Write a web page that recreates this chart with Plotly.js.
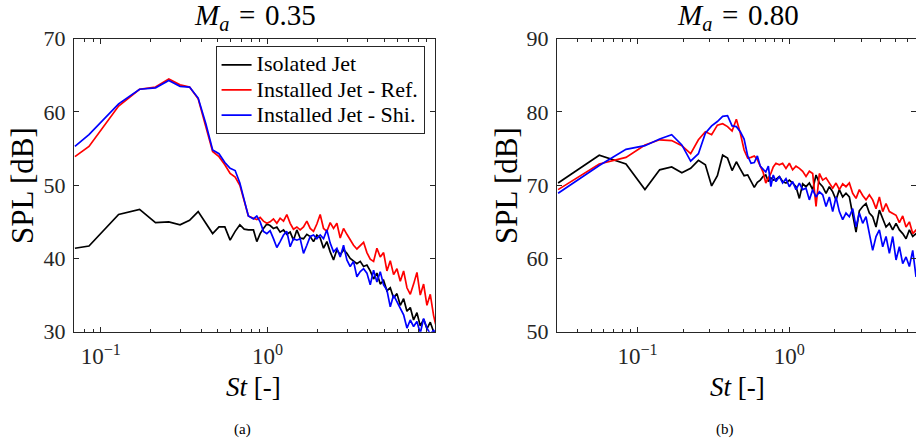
<!DOCTYPE html>
<html><head><meta charset="utf-8">
<script src="https://cdn.plot.ly/plotly-3.0.1.min.js"></script>
<style>html,body{margin:0;padding:0;overflow:hidden;background:#fff}</style>
</head><body><div id="chart" style="width:916px;height:443px"></div>
<script>
// ---- Left panel (M_a = 0.35) ----
const stLeft = [0.07, 0.085, 0.128, 0.171, 0.213, 0.256, 0.299, 0.341, 0.384, 0.427, 0.469, 0.512, 0.555, 0.597, 0.640, 0.683, 0.725, 0.768,
  0.824, 0.863, 0.904, 0.946, 0.991, 1.037, 1.086, 1.138, 1.191, 1.248, 1.306, 1.368, 1.432, 1.500, 1.571, 1.645, 1.722, 1.804, 1.889, 1.978,
  2.071, 2.169, 2.271, 2.378, 2.490, 2.608, 2.731, 2.859, 2.994, 3.135, 3.283, 3.438, 3.600, 3.770, 3.948, 4.134, 4.329, 4.533, 4.747, 4.971,
  5.205, 5.451, 5.708, 5.977, 6.259, 6.554, 6.863, 7.187, 7.522, 7.877, 8.249, 8.638, 9.045, 9.471, 9.918, 10.2];
const isolatedLeft = [41.4, 41.7, 46.0, 46.7, 44.9, 45.0, 44.6, 45.2, 46.4, 44.9, 43.4, 44.3, 44.3, 42.5, 43.7, 44.6, 44.0, 43.9,
  43.9, 42.3, 43.4, 44.1, 44.7, 44.5, 44.1, 44.3, 43.6, 43.9, 43.3, 43.6, 42.5, 43.9, 42.8, 42.7, 43.3, 43.0, 42.3, 43.2,
  42.8, 41.4, 42.3, 40.9, 39.8, 41.2, 40.5, 41.2, 40.7, 40.0, 39.7, 39.3, 39.6, 38.9, 39.1, 38.3, 37.2, 38.0, 36.5, 37.0,
  35.6, 36.0, 34.6, 35.2, 33.6, 34.5, 32.8, 33.3, 31.6, 32.6, 30.8, 31.7, 30.4, 31.3, 30.0, 29.9];
const refLeft = [53.9, 55.3, 60.8, 63.1, 63.4, 64.5, 63.7, 63.4, 61.8, 58.1, 54.6, 53.9, 52.8, 51.6, 51.1, 50.0, 48.0, 45.8,
  45.5, 45.3, 45.6, 45.1, 44.8, 45.0, 45.4, 44.8, 45.5, 45.1, 46.0, 44.8, 44.0, 44.3, 43.9, 44.3, 45.1, 44.1, 43.7, 44.7,
  46.0, 44.1, 43.7, 44.9, 44.1, 44.8, 42.8, 44.1, 43.3, 42.5, 41.8, 41.3, 41.8, 42.2, 40.8, 39.9, 39.6, 41.4, 40.2, 40.8,
  38.3, 39.7, 37.8, 38.6, 36.9, 38.3, 36.0, 35.1, 36.5, 38.1, 35.0, 36.5, 33.6, 35.1, 32.2, 31.0];
const shiLeft = [55.3, 56.9, 61.1, 63.1, 63.3, 64.3, 63.5, 63.4, 61.9, 58.4, 54.8, 54.3, 53.1, 52.3, 52.0, 50.3, 48.0, 45.8,
  45.4, 45.8, 45.0, 43.7, 43.4, 43.8, 42.7, 41.5, 42.3, 43.2, 43.7, 41.6, 42.7, 42.5, 42.7, 40.7, 41.8, 43.0, 43.2, 42.7,
  43.2, 42.7, 43.9, 42.1, 40.9, 41.4, 40.2, 41.8, 39.8, 38.9, 39.6, 37.5, 38.2, 38.6, 38.0, 36.4, 38.4, 36.8, 38.2, 36.4,
  35.7, 33.4, 35.0, 34.1, 33.2, 32.3, 30.5, 31.6, 30.7, 31.4, 29.8, 31.8, 30.5, 29.7, 30.2, 29.8];

// ---- Right panel (M_a = 0.80) ----
const stRight = [0.03, 0.056, 0.084, 0.112, 0.14, 0.168, 0.196, 0.224, 0.252, 0.28, 0.308, 0.336, 0.364, 0.392, 0.42, 0.448, 0.476, 0.504,
  0.532, 0.56, 0.588, 0.616, 0.644, 0.672, 0.70, 0.728, 0.756, 0.784,
  0.817, 0.860, 0.904, 0.951, 1.001, 1.052, 1.107, 1.165, 1.225, 1.289, 1.356, 1.426, 1.500, 1.578, 1.660, 1.746, 1.836, 1.932,
  2.032, 2.137, 2.248, 2.364, 2.487, 2.616, 2.752, 2.894, 3.045, 3.202, 3.369, 3.543, 3.727, 3.921, 4.124, 4.338, 4.564, 4.800,
  5.049, 5.312, 5.587, 5.877, 6.182, 6.503, 6.839, 7.19];
const isolatedRight = [70.3, 74.1, 72.9, 69.4, 72.1, 72.5, 71.7, 72.3, 73.4, 72.8, 69.9, 71.3, 74.1, 73.7, 72.0, 73.2, 72.2, 71.3,
  71.4, 70.5, 69.7, 70.4, 70.7, 71.2, 71.4, 70.5, 71.0, 70.7,
  70.8, 71.2, 70.5, 70.3, 70.7, 70.3, 69.8, 68.2, 70.2, 69.8, 70.3, 69.4, 71.4, 70.3, 69.8, 68.9, 69.8, 69.1,
  68.0, 69.4, 68.4, 68.9, 68.4, 66.0, 63.6, 66.5, 67.1, 67.5, 66.2, 65.7, 64.3, 66.6, 65.3, 64.3, 64.8, 63.9,
  64.8, 63.9, 63.4, 62.7, 63.9, 63.0, 63.4, 62.5];
const refRight = [69.4, 72.9, 73.8, 75.5, 76.2, 76.1, 75.4, 74.3, 76.2, 77.3, 76.9, 78.2, 78.4, 78.0, 77.4, 79.0, 77.1, 74.8,
  73.7, 73.8, 74.0, 73.5, 72.6, 71.8, 70.3, 71.0, 71.6, 72.5,
  73.0, 72.8, 73.0, 72.3, 73.0, 72.1, 72.6, 72.3, 71.9, 71.2, 71.9, 71.6, 67.1, 71.6, 70.7, 71.0, 70.3, 69.6,
  70.3, 69.4, 70.2, 69.8, 70.3, 68.9, 68.2, 69.4, 68.6, 68.0, 68.7, 68.0, 66.8, 68.4, 66.4, 67.5, 66.4, 66.2,
  65.9, 64.9, 65.8, 64.3, 65.0, 63.4, 63.9, 62.8];
const shiRight = [68.9, 72.7, 74.9, 75.4, 76.3, 76.9, 75.5, 73.3, 74.3, 77.1, 78.1, 78.7, 79.4, 79.5, 78.1, 78.0, 77.3, 76.3,
  74.0, 73.0, 73.1, 74.0, 72.6, 72.2, 71.8, 72.6, 69.8, 71.4,
  70.5, 71.2, 70.3, 70.9, 69.8, 70.5, 69.4, 70.3, 69.4, 69.6, 68.0, 69.4, 68.4, 69.1, 68.7, 67.1, 68.4, 66.4,
  68.4, 66.4, 65.3, 66.2, 65.7, 66.8, 64.3, 66.2, 64.8, 65.7, 63.4, 61.1, 63.0, 63.9, 61.6, 63.0, 60.7, 63.0,
  59.8, 61.6, 59.3, 60.2, 58.9, 61.1, 57.5, 59.8];

const seriesNames = ['Isolated Jet', 'Installed Jet - Ref.', 'Installed Jet - Shi.'];
const seriesColors = ['#000000', '#ff0000', '#0000ff'];
const panelTitles = ['<i>M</i><sub><i>a</i></sub>\u2004=\u20040.35', '<i>M</i><sub><i>a</i></sub>\u2004=\u20040.80'];
const xTickVals = [0.1, 1];
const xTickText = ['10<sup>\u22121</sup>', '10<sup>0</sup>'];
const minorLeft = [0.08, 0.09, 0.2, 0.3, 0.4, 0.5, 0.6, 0.7, 0.8, 0.9, 2, 3, 4, 5, 6, 7, 8, 9];
const minorRight = [0.04, 0.05, 0.06, 0.07, 0.08, 0.09, 0.2, 0.3, 0.4, 0.5, 0.6, 0.7, 0.8, 0.9, 2, 3, 4, 5, 6];

const leftSets = [isolatedLeft, refLeft, shiLeft];
const rightSets = [isolatedRight, refRight, shiRight];
const traces = [];
leftSets.forEach((ys, i) => traces.push({
  x: stLeft, y: ys, type: 'scatter', mode: 'lines',
  name: '<span style="font-size:22px">' + seriesNames[i] + '</span>',
  line: {color: seriesColors[i], width: 1.7}, xaxis: 'x', yaxis: 'y', cliponaxis: true
}));
rightSets.forEach((ys, i) => traces.push({
  x: stRight, y: ys, type: 'scatter', mode: 'lines', name: seriesNames[i], showlegend: false,
  line: {color: seriesColors[i], width: 1.7}, xaxis: 'x2', yaxis: 'y2', cliponaxis: true
}));

const axCol = '#262626';
const font = 'Liberation Serif';
function xAxis(domain, range, minorVals, anchor) {
  return {type: 'log', domain: domain, range: range, anchor: anchor,
    showline: true, linecolor: axCol, linewidth: 1, mirror: 'ticks',
    ticks: 'inside', ticklen: 5, tickwidth: 1, tickcolor: axCol,
    tickmode: 'array', tickvals: xTickVals, ticktext: xTickText,
    minor: {tickmode: 'array', tickvals: minorVals, ticks: 'inside', ticklen: 3, tickwidth: 1, tickcolor: axCol, showgrid: false},
    showgrid: false, zeroline: false, ticklabelstandoff: 4,
    tickfont: {family: font, size: 23, color: axCol}};
}
function yAxis(domain, range, anchor) {
  return {domain: domain, range: range, anchor: anchor, dtick: 10, tick0: 0,
    showline: true, linecolor: axCol, linewidth: 1, mirror: 'ticks',
    ticks: 'inside', ticklen: 5, tickwidth: 1, tickcolor: axCol,
    showgrid: false, zeroline: false, ticklabelstandoff: 3,
    tickfont: {family: font, size: 22, color: axCol}};
}
const yDom = [0.2512, 0.9126];
function ann(text, x, y, size, extra) {
  return Object.assign({text: text, x: x, y: y, xref: 'paper', yref: 'paper', showarrow: false,
    xanchor: 'center', yanchor: 'middle', font: {family: font, size: size, color: '#000'}}, extra || {});
}
const layout = {
  width: 916, height: 443, margin: {l: 0, r: 0, t: 0, b: 0},
  paper_bgcolor: '#ffffff', plot_bgcolor: '#ffffff',
  font: {family: font, color: axCol},
  showlegend: true,
  legend: {x: 0.4635, y: 0.8955, xanchor: 'right', yanchor: 'top', bgcolor: '#ffffff',
    bordercolor: axCol, borderwidth: 1, font: {family: font, size: 17, color: '#000'}, tracegroupgap: 0},
  xaxis: xAxis([0.0808, 0.4749], [-1.1603, 1.0048], minorLeft, 'y'),
  yaxis: yAxis(yDom, [30, 70], 'x'),
  xaxis2: xAxis([0.6081, 1.0], [-1.530, 0.8347], minorRight, 'y2'),
  yaxis2: yAxis(yDom, [50, 90], 'x2'),
  annotations: [
    ann(panelTitles[0], 254.5 / 916, 1 - 17 / 443, 29),
    ann(panelTitles[1], 737.7 / 916, 1 - 17 / 443, 29),
    ann('SPL [dB]', 22 / 916, 1 - 186 / 443, 31, {textangle: -90}),
    ann('SPL [dB]', 506 / 916, 1 - 186 / 443, 31, {textangle: -90}),
    ann('<i>St</i> [-]', 253.3 / 916, 1 - 386.5 / 443, 27),
    ann('<i>St</i> [-]', 737.7 / 916, 1 - 386.5 / 443, 27),
    ann('(a)', 242 / 916, 1 - 429 / 443, 15),
    ann('(b)', 725.3 / 916, 1 - 429 / 443, 15)
  ]
};
Plotly.newPlot('chart', traces, layout, {staticPlot: true, displayModeBar: false});
</script>
</body></html>
